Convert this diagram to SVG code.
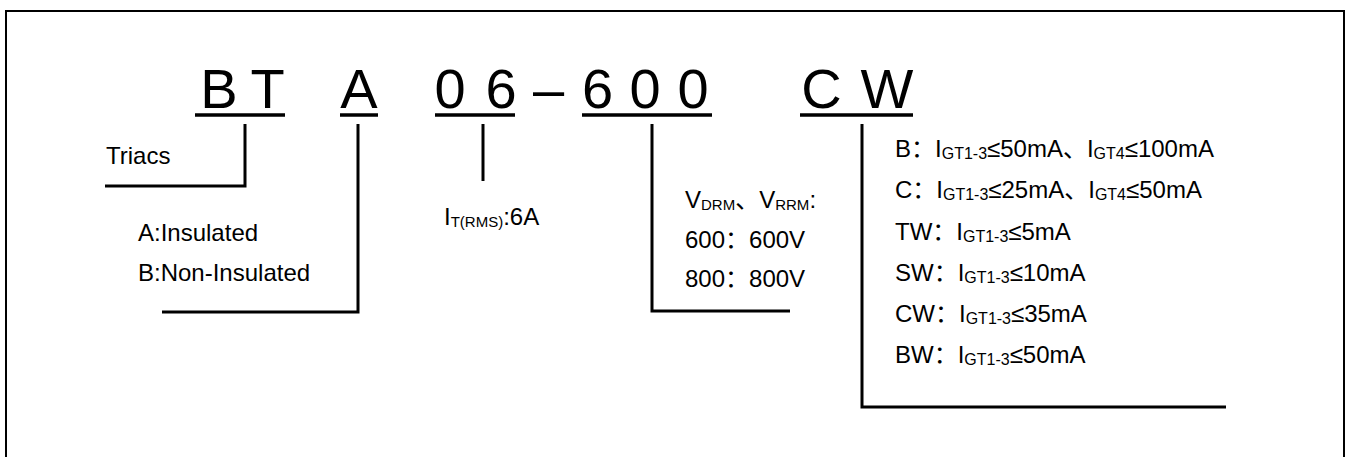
<svg xmlns="http://www.w3.org/2000/svg" width="1349" height="457" viewBox="0 0 1349 457">
<style>
text{font-family:"Liberation Sans","Noto Sans CJK SC",Arial,sans-serif;fill:#000}
.big{font-size:56px;text-anchor:middle}
.t{font-size:24px}
.s{font-size:15px}
.g{font-size:16px}
.ln{fill:none;stroke:#000;stroke-width:3}
.ul{stroke:#000;stroke-width:3.5}
</style>
<rect width="1349" height="457" fill="#fff"/>
<path d="M6,457 V11 H1344 V457" fill="none" stroke="#000" stroke-width="2"/>
<g id="code">
<text class="big" x="219" y="108">B</text>
<text class="big" x="267.5" y="108">T</text>
<text class="big" x="359" y="108">A</text>
<text class="big" x="450" y="108">0</text>
<text class="big" x="501" y="108">6</text>
<text class="big" x="548.5" y="108">–</text>
<text class="big" x="597.5" y="108">6</text>
<text class="big" x="645" y="108">0</text>
<text class="big" x="693" y="108">0</text>
<text class="big" x="821.5" y="108">C</text>
<text class="big" x="887" y="108">W</text>
<line class="ul" x1="195" y1="115" x2="285" y2="115"/>
<line class="ul" x1="340" y1="115" x2="378" y2="115"/>
<line class="ul" x1="435" y1="115" x2="515" y2="115"/>
<line class="ul" x1="582" y1="115" x2="712" y2="115"/>
<line class="ul" x1="800" y1="115" x2="913" y2="115"/>
</g>
<g id="connectors">
<path class="ln" d="M245,124 V186 H105"/>
<path class="ln" d="M358,124 V312 H162"/>
<path class="ln" d="M483,124 V181"/>
<path class="ln" d="M652,124 V311 H790"/>
<path class="ln" d="M862,124 V407 H1226"/>
</g>
<g id="triacs"><text class="t" x="106" y="164">Triacs</text></g>
<g id="insulation">
<text class="t" x="138" y="241">A:Insulated</text>
<text class="t" x="138" y="281">B:Non-Insulated</text>
</g>
<g id="current"><text class="t" x="444" y="225">I<tspan class="s" dy="2">T(RMS)</tspan><tspan dy="-2">:6A</tspan></text></g>
<g id="voltage">
<text class="t" x="685" y="208">V<tspan class="s" dy="2">DRM</tspan><tspan dy="-2">、V</tspan><tspan class="s" dy="2">RRM</tspan><tspan dy="-2">:</tspan></text>
<text class="t" x="685" y="248">600：600V</text>
<text class="t" x="685" y="287">800：800V</text>
</g>
<g id="sensitivity">
<text class="t" x="895" y="157">B：I<tspan class="g" dy="2">GT1-3</tspan><tspan dy="-2">≤50mA、I</tspan><tspan class="g" dy="2">GT4</tspan><tspan dy="-2">≤100mA</tspan></text>
<text class="t" x="895" y="198">C：I<tspan class="g" dy="2">GT1-3</tspan><tspan dy="-2">≤25mA、I</tspan><tspan class="g" dy="2">GT4</tspan><tspan dy="-2">≤50mA</tspan></text>
<text class="t" x="895" y="240">TW：I<tspan class="g" dy="2">GT1-3</tspan><tspan dy="-2">≤5mA</tspan></text>
<text class="t" x="895" y="281">SW：I<tspan class="g" dy="2">GT1-3</tspan><tspan dy="-2">≤10mA</tspan></text>
<text class="t" x="895" y="322">CW：I<tspan class="g" dy="2">GT1-3</tspan><tspan dy="-2">≤35mA</tspan></text>
<text class="t" x="895" y="363">BW：I<tspan class="g" dy="2">GT1-3</tspan><tspan dy="-2">≤50mA</tspan></text>
</g>
</svg>
